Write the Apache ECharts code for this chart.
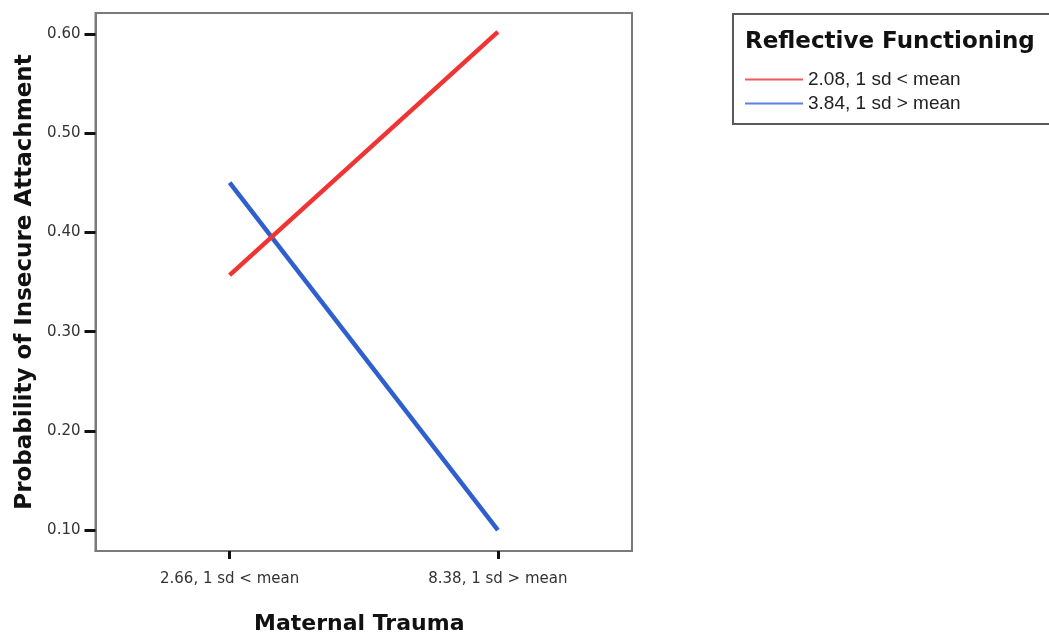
<!DOCTYPE html>
<html>
<head>
<meta charset="utf-8">
<script src="https://cdn.jsdelivr.net/npm/echarts@6/dist/echarts.min.js"></script>
<style>html,body{margin:0;padding:0;background:#fff;}#c{width:1049px;height:637px;}</style>
</head>
<body>
<div id="c"></div>
<script>
const categories = ['2.66, 1 sd < mean', '8.38, 1 sd > mean'];
const seriesNames = ['2.08, 1 sd < mean', '3.84, 1 sd > mean'];
const lowRF = [0.357, 0.602];
const highRF = [0.450, 0.100];
const yTicks = [0.1, 0.2, 0.3, 0.4, 0.5, 0.6];
const legendTitle = 'Reflective Functioning';
const xTitle = 'Maternal Trauma';
const yTitle = 'Probability of Insecure Attachment';

const chart = echarts.init(document.getElementById('c'));
chart.setOption({
  animation: false,
  backgroundColor: '#fff',
  grid: { left: 95.5, top: 13, right: 417, bottom: 86, outerBoundsMode: 'none', containLabel: false, show: true, borderColor: '#7a7a7a', borderWidth: 2, backgroundColor: '#fff' },
  xAxis: {
    type: 'category', data: categories, boundaryGap: true,
    axisLine: { show: true, lineStyle: { color: '#7a7a7a', width: 2 } },
    axisTick: { show: true, alignWithLabel: true, length: 8, lineStyle: { color: '#111', width: 3 } },
    axisLabel: { margin: 21, color: '#333', fontFamily: 'DejaVu Sans', fontSize: 15 },
    splitLine: { show: false },
    name: xTitle, nameLocation: 'middle', nameGap: 62,
    nameTextStyle: { fontFamily: 'DejaVu Sans', fontWeight: 'bold', fontSize: 22, color: '#111', padding: [0, 9, 0, 0] }
  },
  yAxis: {
    type: 'value', min: 0.079, max: 0.621,
    axisLine: { show: true, lineStyle: { color: '#7a7a7a', width: 2 } },
    axisTick: { show: true, length: 11, customValues: yTicks, lineStyle: { color: '#111', width: 3 } },
    axisLabel: { customValues: yTicks, margin: 15, color: '#333', fontFamily: 'DejaVu Sans', fontSize: 15, formatter: v => v.toFixed(2) },
    splitLine: { show: false },
    name: yTitle, nameLocation: 'middle', nameGap: 56, nameRotate: 90,
    nameTextStyle: { fontFamily: 'DejaVu Sans', fontWeight: 'bold', fontSize: 23, color: '#111' }
  },
  legend: {
    orient: 'vertical', left: 745, top: 70, padding: 0, icon: 'rect', itemWidth: 58, itemHeight: 2, itemGap: 5,
    textStyle: { fontFamily: 'Liberation Sans', fontSize: 19, color: '#222' },
    data: [
      { name: seriesNames[0], itemStyle: { color: '#f05a5a' } },
      { name: seriesNames[1], itemStyle: { color: '#5a80e0' } }
    ]
  },
  graphic: [
    { type: 'rect', left: 732, top: 13, shape: { width: 330, height: 110 }, style: { fill: '#fff', stroke: '#5a5a5a', lineWidth: 2 }, z: -1 },
    { type: 'text', left: 745, top: 31, style: { text: legendTitle, font: 'bold 23px "DejaVu Sans"', fill: '#111' } }
  ],
  series: [
    { name: seriesNames[1], type: 'line', data: highRF, symbol: 'none', z: 2, lineStyle: { color: '#2f5fcf', width: 4.5 }, itemStyle: { color: '#2f5fcf' } },
    { name: seriesNames[0], type: 'line', data: lowRF, symbol: 'none', z: 3, lineStyle: { color: '#f03333', width: 4.5 }, itemStyle: { color: '#f03333' } }
  ]
});
</script>
</body>
</html>
